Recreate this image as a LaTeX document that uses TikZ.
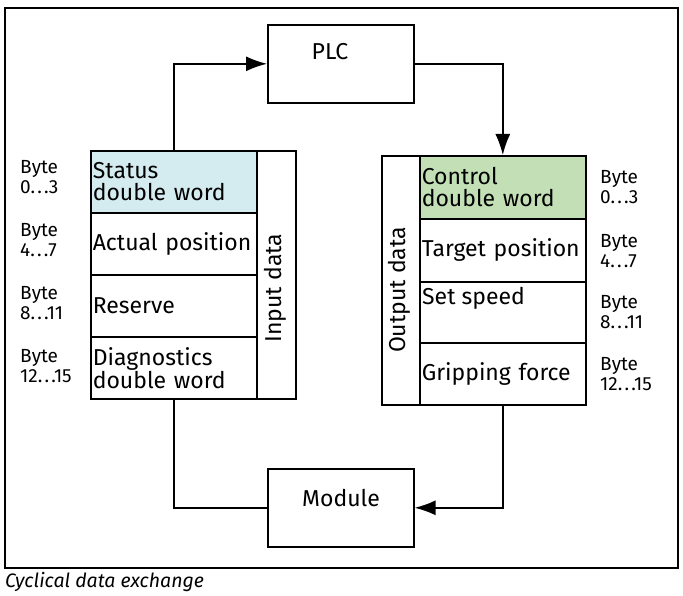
\documentclass[tikz,border=0pt]{standalone}
\usepackage{fontspec}
\setmainfont{Fira Sans}
\usetikzlibrary{arrows.meta}
\definecolor{statusblue}{HTML}{D4EBF0}
\definecolor{controlgreen}{HTML}{C3DFB6}
\newcommand\bdots{.\kern2.2pt.\kern2.2pt.}
\begin{document}
\begin{tikzpicture}[x=1pt,y=-1pt,
  cell/.style={draw, line width=1.6pt, inner xsep=2pt, inner ysep=0pt, anchor=north west,
    minimum width=166pt, text width=162pt, align=left, font=\fontsize{23}{22}\selectfont},
  sidecol/.style={draw, line width=1.6pt, anchor=north west, inner sep=0pt},
  mainbox/.style={draw, line width=1.6pt, anchor=north west, minimum width=146pt, minimum height=78pt, inner sep=0pt},
  boxtext/.style={font=\fontsize{23}{22}\selectfont, inner sep=0pt},
  bytelbl/.style={anchor=west, align=left, inner sep=0pt, font=\fontsize{19}{20}\selectfont},
  conn/.style={line width=1.6pt},
  arr/.style={conn, -{Latex[length=21pt,width=15pt]}},
]
\useasboundingbox (0,0) rectangle (683,596);
\draw[line width=1.2pt] (5,8) rectangle (678,568);
\node[anchor=west, inner sep=0pt, font=\fontsize{19.5}{20}\selectfont\itshape] (caption) at (5,582) {Cyclical data exchange};

% PLC and Module
\node[mainbox] (plc) at (267,24) {};
\node[boxtext] (plctext) at (330,52) {PLC};
\node[mainbox] (module) at (267,468) {};
\node[boxtext] (moduletext) at (341,498) {Module};

% Left block (input)
\node[cell, fill=statusblue, minimum height=62pt] (status) at (90,150) {Status\\double word};
\node[cell, minimum height=62pt] (actual) at (90,212) {Actual position};
\node[cell, minimum height=62pt] (reserve) at (90,274) {Reserve};
\node[cell, minimum height=62pt] (diag) at (90,336) {Diagnostics\\double word};
\node[sidecol, minimum width=39pt, minimum height=248pt] (input) at (256,150) {};
\node[boxtext, rotate=90] (inputtext) at (275,288) {Input data};

% Right block (output)
\node[sidecol, minimum width=38pt, minimum height=249pt] (output) at (381,155) {};
\node[boxtext, rotate=90] (outputtext) at (399,290) {Output data};
\node[cell, fill=controlgreen, minimum height=63pt] (control) at (419,155) {Control\\double word};
\node[cell, minimum height=63pt] (target) at (419,218) {Target position};
\node[cell, minimum height=61pt] (setspeed) at (419,281) {};
\node[boxtext, anchor=north west] (setspeedtext) at (422,287) {Set speed};
\node[cell, minimum height=62pt] (grip) at (419,342) {Gripping force};

% Byte labels
\node[bytelbl] (bl0) at (20,177) {Byte\\0\bdots3};
\node[bytelbl] (bl1) at (20,240) {Byte\\4\bdots7};
\node[bytelbl] (bl2) at (20,303) {Byte\\8\bdots11};
\node[bytelbl] (bl3) at (20,366) {Byte\\12\bdots15};
\node[bytelbl] (br0) at (600,187) {Byte\\0\bdots3};
\node[bytelbl] (br1) at (600,251) {Byte\\4\bdots7};
\node[bytelbl] (br2) at (600,312) {Byte\\8\bdots11};
\node[bytelbl] (br3) at (600,374) {Byte\\12\bdots15};

% Connectors
\draw[arr] (status.north) |- (plc.west);
\draw[arr] (plc.east) -| (control.north);
\draw[conn] (diag.south) |- (module.west);
\draw[arr] (grip.south) |- (module.east);
\end{tikzpicture}
\end{document}
